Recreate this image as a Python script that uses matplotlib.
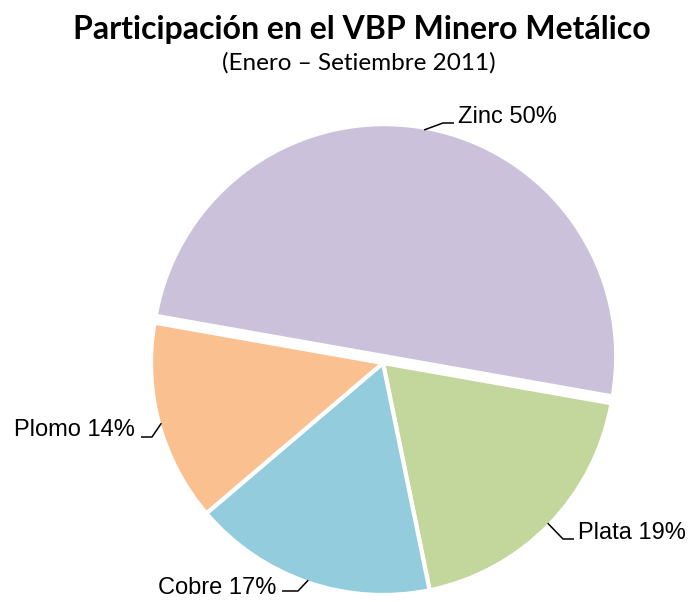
import matplotlib
matplotlib.use("Agg")
import matplotlib.pyplot as plt
import numpy as np

# datos: participación en el VBP minero metálico (ene-set 2011)
metales = ["Zinc", "Plata", "Cobre", "Plomo"]
porcentajes = [50, 19, 17, 14]
colores = ["#CCC1DA", "#C3D69B", "#93CDDD", "#FAC090"]
explode = [0.03, 0.0, 0.0, 0.0]

W, H = 688, 602
CX, CY, R = 383, 363, 232  # centro y radio del pie en pixeles


def px(x, y):
    # pixel (desde arriba-izquierda) -> coordenadas de datos
    return (x - CX) / R, (H - y - (H - CY)) / R


# posición de etiquetas (texto, codo, extremo de la línea) en pixeles
lab_pos = {
    "Zinc": dict(txt=(458, 117), ha="left", elbow=(443, 123), end=(454, 123)),
    "Plata": dict(txt=(578, 533), ha="left", elbow=(563, 539), end=(574, 539)),
    "Cobre": dict(txt=(276, 588), ha="right", elbow=(298, 591), end=(282, 591)),
    "Plomo": dict(txt=(135, 430), ha="right", elbow=(152, 437), end=(141, 437)),
}

fig = plt.figure(figsize=(W / 100, H / 100), dpi=100)
ax = fig.add_axes([0, 0, 1, 1])

wedges, _ = ax.pie(porcentajes, colors=colores, explode=explode, startangle=170,
                   counterclock=False, radius=1.0,
                   wedgeprops=dict(edgecolor="white", linewidth=3))

x0, y0 = px(0, H)
x1, y1 = px(W, 0)
ax.set_xlim(x0, x1)
ax.set_ylim(y0, y1)
ax.set_aspect("equal")
ax.axis("off")

for w, m, p in zip(wedges, metales, porcentajes):
    ang = np.deg2rad((w.theta1 + w.theta2) / 2)
    cx, cy = w.center
    ex, ey = cx + 0.99 * np.cos(ang), cy + 0.99 * np.sin(ang)
    d = lab_pos[m]
    bx, by = px(*d["elbow"])
    fx, fy = px(*d["end"])
    ax.plot([ex, bx, fx], [ey, by, fy], color="black", lw=1.1, solid_capstyle="butt")
    tx, ty = px(*d["txt"])
    ax.text(tx, ty, f"{m} {p}%", ha=d["ha"], va="center", fontsize=17,
            family="Liberation Sans", color="black")

fig.text(362 / W, 1 - 29 / H, "Participación en el VBP Minero Metálico", ha="center",
         va="center", fontsize=23, fontweight="bold", family="Lato")
fig.text(359 / W, 1 - 63 / H, "(Enero – Setiembre 2011)", ha="center", va="center",
         fontsize=17.5, family="Lato")

fig.savefig("out.png", dpi=100)
